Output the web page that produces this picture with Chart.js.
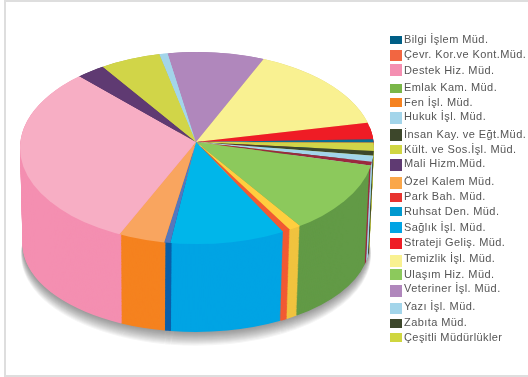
<!DOCTYPE html>
<html lang="tr">
<head>
<meta charset="utf-8">
<title>Müdürlükler</title>
<script src="https://cdn.jsdelivr.net/npm/chart.js@4/dist/chart.umd.min.js"></script>
<style>
  html, body { margin: 0; padding: 0; background: #fff; overflow: hidden; }
  #frame { position: absolute; left: 4px; top: 0; width: 524px; height: 373px; border: solid #dedede; border-width: 2px 0 2px 2px; }
  #pasta { position: absolute; left: 0; top: 0; }
</style>
</head>
<body>
<div id="frame"></div>
<canvas id="pasta" width="528" height="377"></canvas>
<script>
// legend order
const categories = ['Bilgi İşlem Müd.', 'Çevr. Kor.ve Kont.Müd.', 'Destek Hiz. Müd.', 'Emlak Kam. Müd.', 'Fen İşl. Müd.',
  'Hukuk İşl. Müd.', 'İnsan Kay. ve Eğt.Müd.', 'Kült. ve Sos.İşl. Müd.', 'Mali Hizm.Müd.', 'Özel Kalem Müd.',
  'Park Bah. Müd.', 'Ruhsat Den. Müd.', 'Sağlık İşl. Müd.', 'Strateji Geliş. Müd.', 'Temizlik İşl. Müd.',
  'Ulaşım Hiz. Müd.', 'Veteriner İşl. Müd.', 'Yazı İşl. Müd.', 'Zabıta Müd.', 'Çeşitli Müdürlükler'];
// percent, read off the rim of the pie. Emlak and Insan have no slice that can be seen
const values = [0.53, 0.69, 31.23, 0, 1.08, 0.75, 0, 5.61, 2.72, 4.22, 0.61, 0.56, 10.42, 3.0, 15.28, 11.47, 8.83, 0.94, 0.72, 1.33];
const legendColors = ['#005f86', '#f26641', '#f48fb1', '#7ab648', '#f58220', '#a3d5ea', '#3d472b', '#d0d642', '#5f3a72', '#faa74a',
  '#e8332f', '#0099cf', '#00a4e4', '#ee1c25', '#f9f191', '#8cc95c', '#b087bc', '#a3d5ea', '#3d472b', '#cfd63f'];
const topColors = ['#0a6e95', '#f15a33', '#f7aec4', '#7ab648', '#ffcf3f', '#a3d5ea', '#3d472b', '#d1d548', '#5f3a72', '#f9a55f',
  '#9a2a3e', '#5578bd', '#00b6ea', '#ef1c25', '#f9f191', '#8cc95c', '#b087bc', '#a3d5ea', '#3d472b', '#d1d548'];
const sideColors = ['#005f86', '#f15a33', '#f48fb1', '#629a46', '#f0c33f', '#a3d5ea', '#3d472b', '#b9bd40', '#4f3060', '#f5821f',
  '#9b2b3f', '#0b5fa8', '#00a4e4', '#d5191f', '#e0d880', '#629a46', '#9c77a8', '#a3d5ea', '#3d472b', '#b9bd40'];
// clockwise from the top of the pie, indexes into categories
const pieOrder = [16, 14, 13, 0, 19, 18, 17, 10, 15, 3, 4, 1, 12, 11, 9, 2, 8, 6, 7, 5];

// the pie is drawn flat by Chart.js and squashed into this perspective
const topDisc = { x: 197, y: 148, a: 177, b: 96 };
const bottomDisc = { x: 196, y: 244, a: 173.5, b: 88 };
const layers = 96;
// the slices meet above the middle of the top ellipse
const apex = { x: 196, y: 142, a: 177, up: 90, down: 102 };
const overshoot = 1.1;
const shadowSteps = 13;

// legend rows: swatch top, swatch height, text middle
const swatchTop = [36, 50, 64, 84, 98, 112, 129, 145, 159, 177, 193, 207, 222, 238, 255, 269, 285, 303, 319, 333];
const swatchHeight = [8, 11, 12, 9, 9, 12, 12, 9, 12, 12, 9, 9, 11, 11, 12, 11, 12, 11, 9, 9];
const textMiddle = [40, 55, 71, 88, 103, 117, 135, 150, 164, 182, 197, 212, 228, 243, 259, 275, 289, 307, 323, 338];

function discAt(s) {
  return {
    x: topDisc.x + (bottomDisc.x - topDisc.x) * s,
    y: topDisc.y + (bottomDisc.y - topDisc.y) * s,
    a: topDisc.a + (bottomDisc.a - topDisc.a) * s,
    b: topDisc.b + (bottomDisc.b - topDisc.b) * s
  };
}

function squash(ctx, arc, x, y, a, b) {
  const r = arc.outerRadius;
  ctx.translate(x, y);
  ctx.scale(a / r, b / r);
  ctx.translate(-arc.x, -arc.y);
}

// draw all arcs once more with another fill
function drawArcsIn(ctx, arcs, colorOf) {
  arcs.forEach((arc, i) => {
    const opts = arc.options;
    arc.options = Object.assign(Object.create(opts), { backgroundColor: colorOf(i) });
    arc.draw(ctx);
    arc.options = opts;
  });
}

// top face, one half at a time, cut to the real rim
function drawTopHalf(chart, arcs, yFrom, yTo, b) {
  const ctx = chart.ctx;
  ctx.save();
  ctx.beginPath();
  ctx.rect(0, yFrom, chart.width, yTo - yFrom);
  ctx.clip();
  ctx.beginPath();
  ctx.ellipse(topDisc.x, topDisc.y, topDisc.a, topDisc.b, 0, 0, Math.PI * 2);
  ctx.clip();
  squash(ctx, arcs[0], apex.x, apex.y, apex.a * overshoot, b * overshoot);
  arcs.forEach(arc => arc.draw(ctx));
  ctx.restore();
}

const pie3d = {
  id: 'pie3d',
  beforeDatasetDraw(chart) {
    const ctx = chart.ctx;
    const arcs = chart.getDatasetMeta(0).data;
    // soft shadow under the bottom of the pie, built up from faint copies
    const base = discAt(1);
    for (let k = shadowSteps; k > 0; k--) {
      ctx.save();
      squash(ctx, arcs[0], base.x, base.y + k * 0.85, base.a + k * 0.12, base.b + k * 0.2);
      drawArcsIn(ctx, arcs, () => 'rgba(0,0,0,0.04)');
      ctx.restore();
    }
    for (let n = layers; n >= 0; n--) {
      const d = discAt(n / layers);
      ctx.save();
      squash(ctx, arcs[0], d.x, d.y, d.a, d.b);
      drawArcsIn(ctx, arcs, i => sideColors[pieOrder[i]]);
      ctx.restore();
    }
    drawTopHalf(chart, arcs, 0, apex.y, apex.up);
    drawTopHalf(chart, arcs, apex.y, chart.height, apex.down);
    return false;
  },
  afterDraw(chart) {
    const ctx = chart.ctx;
    ctx.save();
    ctx.font = '11px "Liberation Sans"';
    ctx.letterSpacing = '0.42px';
    ctx.textBaseline = 'middle';
    categories.forEach((name, i) => {
      ctx.fillStyle = legendColors[i];
      ctx.fillRect(390, swatchTop[i], 12, swatchHeight[i]);
      ctx.fillStyle = '#555555';
      ctx.fillText(name, 404, textMiddle[i]);
    });
    ctx.restore();
  }
};

new Chart(document.getElementById('pasta'), {
  type: 'pie',
  data: {
    labels: pieOrder.map(i => categories[i]),
    datasets: [{
      data: pieOrder.map(i => values[i]),
      backgroundColor: pieOrder.map(i => topColors[i]),
      borderWidth: 0
    }]
  },
  options: {
    responsive: false,
    animation: false,
    events: [],
    rotation: -9.3,
    plugins: {
      legend: { display: false },
      tooltip: { enabled: false }
    }
  },
  plugins: [pie3d]
});
</script>
</body>
</html>
